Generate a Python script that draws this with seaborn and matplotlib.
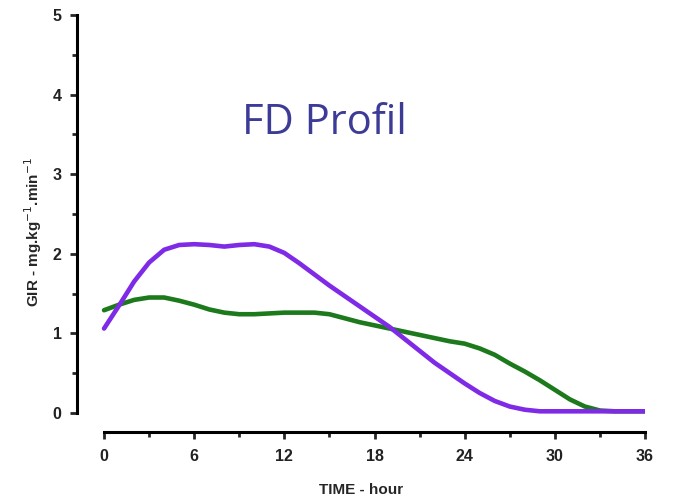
import numpy as np
import pandas as pd
import seaborn as sns
import matplotlib.pyplot as plt
from matplotlib.ticker import MultipleLocator

# values, one per hour
hours = list(range(0, 37))
gir_purple = [1.06, 1.35, 1.65, 1.89, 2.05, 2.11, 2.12, 2.11, 2.09, 2.11,
              2.12, 2.09, 2.01, 1.88, 1.74, 1.60, 1.47, 1.34, 1.21, 1.08,
              0.93, 0.78, 0.63, 0.50, 0.37, 0.25, 0.15, 0.08, 0.04, 0.02,
              0.02, 0.02, 0.02, 0.02, 0.02, 0.02, 0.02]
gir_green = [1.29, 1.36, 1.42, 1.45, 1.45, 1.41, 1.36, 1.30, 1.26, 1.24,
             1.24, 1.25, 1.26, 1.26, 1.26, 1.24, 1.19, 1.14, 1.10, 1.06,
             1.02, 0.98, 0.94, 0.90, 0.87, 0.81, 0.73, 0.62, 0.52, 0.41,
             0.29, 0.17, 0.08, 0.03, 0.02, 0.02, 0.02]
x_ticks = [0, 6, 12, 18, 24, 30, 36]
y_ticks = [0, 1, 2, 3, 4, 5]

df = pd.DataFrame({'hour': hours, 'purple': gir_purple, 'green': gir_green})

sns.set_style('ticks')
plt.rcParams['font.family'] = ['Liberation Sans', 'DejaVu Sans']

fig = plt.figure(figsize=(6.73, 5.0), dpi=100)
ax = fig.add_axes([77 / 673, 68 / 500, 568 / 673, 417 / 500])

sns.lineplot(data=df, x='hour', y='green', color='#1c7a1c', lw=3.3, ax=ax)
sns.lineplot(data=df, x='hour', y='purple', color='#7f2ae6', lw=3.3, ax=ax)

ax.set_xlim(-1.8, 36)
ax.set_ylim(-0.24, 5)
ax.set_xticks(x_ticks)
ax.set_yticks(y_ticks)
ax.xaxis.set_minor_locator(MultipleLocator(3))
ax.yaxis.set_minor_locator(MultipleLocator(0.5))
ax.spines['left'].set_bounds(0, 5)
ax.spines['bottom'].set_bounds(0, 36)
sns.despine(ax=ax)
for s in ['left', 'bottom']:
    ax.spines[s].set_linewidth(2.2)
    ax.spines[s].set_color('black')
ax.tick_params(which='major', length=5, width=2, labelsize=11.5)
ax.tick_params(axis='y', which='major', pad=6)
ax.tick_params(axis='x', which='major', pad=7)
ax.tick_params(which='minor', length=3.5, width=2)
for lab in ax.get_xticklabels() + ax.get_yticklabels():
    lab.set_fontweight('bold')
    lab.set_color('#222222')

ax.set_xlabel('TIME - hour', fontsize=11, fontweight='bold', labelpad=14)
ax.set_ylabel('GIR - mg.kg$^{-1}$.min$^{-1}$', fontsize=11, fontweight='bold')
ax.yaxis.set_label_coords(-0.058, 0.48)

fig.text(324 / 673, 1 - 123 / 500, 'FD Profil', fontsize=30, color='#3c3c96',
         family=['Open Sans', 'DejaVu Sans'], ha='center', va='center')

fig.savefig('out.png', dpi=100)
